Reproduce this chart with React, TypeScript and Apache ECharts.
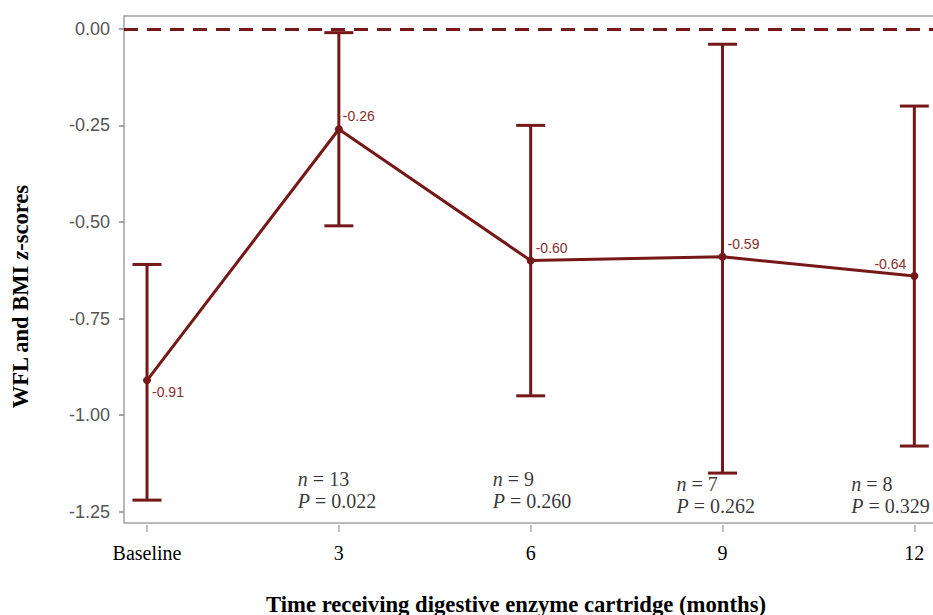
import React, { useEffect, useRef } from "react";
import * as echarts from "echarts";

// ---- data ----
const categories = ["Baseline", "3", "6", "9", "12"];
const months = [0, 3, 6, 9, 12];
const means = [-0.91, -0.26, -0.6, -0.59, -0.64];
const lowerCI = [-1.22, -0.51, -0.95, -1.15, -1.08];
const upperCI = [-0.61, -0.01, -0.25, -0.04, -0.2];
const yTicks = [-1.25, -1.0, -0.75, -0.5, -0.25, 0];
const annotMonths = [3, 6, 9, 12];
const nValues = [13, 9, 7, 8];
const pValues = ["0.022", "0.260", "0.262", "0.329"];
const referenceLine = 0;

const xTitle = "Time receiving digestive enzyme cartridge (months)";

// ---- styles ----
const C = "#761818";
const LABEL_C = "#8a2c2c";
const SERIF = '"Liberation Serif", "Times New Roman", serif';
const SANS = '"Liberation Sans", Arial, sans-serif';
const LABEL_STYLE = [
  { align: "left", offset: [5, 12] },
  { align: "left", offset: [4, -13] },
  { align: "left", offset: [5, -13] },
  { align: "left", offset: [5, -13] },
  { align: "right", offset: [-8, -12] },
];
const ANNOT_Y = -1.195;
const ANNOT_OFFSETS = [
  [-41, 0],
  [-38, 0],
  [-46, 5],
  [-63, 5],
];

export default function App() {
  const ref = useRef<HTMLDivElement>(null);

  useEffect(() => {
    if (!ref.current) return;
    const chart = echarts.init(ref.current, null, { renderer: "svg" });

    const errData = months.map((m, i) => [m, lowerCI[i], upperCI[i]]);
    const lineData = months.map((m, i) => ({
      value: [m, means[i]],
      label: {
        show: true,
        position: "inside",
        align: LABEL_STYLE[i].align,
        verticalAlign: "middle",
        offset: LABEL_STYLE[i].offset,
        formatter: () => means[i].toFixed(2),
        color: LABEL_C,
        fontFamily: SANS,
        fontSize: 14,
      },
    }));
    const annotData = annotMonths.map((m, i) => ({
      value: [m, ANNOT_Y],
      label: { offset: ANNOT_OFFSETS[i] },
    }));

    chart.setOption({
      animation: false,
      backgroundColor: "#ffffff",
      grid: {
        left: 124,
        top: 16,
        width: 814,
        height: 507,
        show: true,
        borderColor: "#a3a3a3",
        borderWidth: 1.5,
        backgroundColor: "transparent",
        containLabel: false,
      },
      xAxis: {
        type: "value",
        min: -0.36,
        max: 12.37,
        offset: 2,
        axisLine: { show: false, onZero: false },
        splitLine: { show: false },
        axisTick: {
          show: true,
          customValues: months,
          length: 7,
          lineStyle: { color: "#aaaaaa", width: 1.5 },
        },
        axisLabel: {
          customValues: months,
          formatter: (v: number) => categories[months.indexOf(v)] ?? "",
          margin: 18,
          fontFamily: SERIF,
          fontSize: 20,
          color: "#000000",
        },
      },
      yAxis: {
        type: "value",
        min: -1.2792,
        max: 0.0331,
        axisLine: { show: false, onZero: false },
        splitLine: { show: false },
        axisTick: {
          show: true,
          customValues: yTicks,
          length: 5,
          lineStyle: { color: "#888888", width: 1.5 },
        },
        axisLabel: {
          customValues: yTicks,
          formatter: (v: number) => v.toFixed(2),
          margin: 14,
          fontFamily: SANS,
          fontSize: 18,
          color: "#555555",
        },
      },
      graphic: [
        {
          type: "text",
          x: 516,
          y: 604,
          style: {
            text: xTitle,
            font: `bold 22.7px ${SERIF}`,
            fill: "#000000",
            align: "center",
            verticalAlign: "middle",
          },
        },
        {
          type: "text",
          x: 20,
          y: 297,
          rotation: Math.PI / 2,
          style: {
            text: "{b|WFL and BMI }{bi|z}{b|-scores}",
            font: `bold 22.5px ${SERIF}`,
            fill: "#000000",
            align: "center",
            verticalAlign: "middle",
            rich: {
              b: { fontFamily: SERIF, fontWeight: "bold", fontSize: 22.5, fill: "#000" },
              bi: {
                fontFamily: SERIF,
                fontWeight: "bold",
                fontStyle: "italic",
                fontSize: 22.5,
                fill: "#000",
              },
            },
          },
        },
      ],
      series: [
        {
          type: "custom",
          name: "ci",
          data: errData,
          encode: { x: 0, y: [1, 2] },
          z: 2,
          renderItem: (params: any, api: any) => {
            const x = api.value(0);
            const lo = api.value(1);
            const hi = api.value(2);
            const pHi = api.coord([x, hi]);
            const pLo = api.coord([x, lo]);
            const hw = 14.5;
            const st = { stroke: C, lineWidth: 3 };
            return {
              type: "group",
              children: [
                { type: "line", shape: { x1: pHi[0], y1: pHi[1], x2: pLo[0], y2: pLo[1] }, style: st },
                { type: "line", shape: { x1: pHi[0] - hw, y1: pHi[1], x2: pHi[0] + hw, y2: pHi[1] }, style: st },
                { type: "line", shape: { x1: pLo[0] - hw, y1: pLo[1], x2: pLo[0] + hw, y2: pLo[1] }, style: st },
              ],
            };
          },
        },
        {
          type: "line",
          name: "mean",
          data: lineData,
          z: 3,
          symbol: "circle",
          symbolSize: 8,
          lineStyle: { color: C, width: 3 },
          itemStyle: { color: C },
          markLine: {
            silent: true,
            symbol: ["none", "none"],
            label: { show: false },
            lineStyle: { color: C, width: 3, type: [14, 9] },
            data: [{ yAxis: referenceLine }],
          },
        },
        {
          type: "scatter",
          name: "annot",
          data: annotData,
          symbolSize: 1,
          itemStyle: { color: "rgba(0,0,0,0)" },
          silent: true,
          z: 4,
          label: {
            show: true,
            position: "inside",
            align: "left",
            verticalAlign: "middle",
            fontFamily: SERIF,
            fontSize: 20,
            color: "#000000",
            lineHeight: 22,
            formatter: (p: any) =>
              `{i|n} = ${nValues[p.dataIndex]}\n{i|P} = ${pValues[p.dataIndex]}`,
            rich: {
              i: {
                fontFamily: SERIF,
                fontSize: 20,
                fontStyle: "italic",
                color: "#000000",
                lineHeight: 22,
              },
            },
          },
        },
      ],
    });

    return () => chart.dispose();
  }, []);

  return (
    <div
      style={{
        position: "absolute",
        left: 0,
        top: 0,
        width: 933,
        height: 615,
        overflow: "hidden",
        background: "#fff",
      }}
    >
      <div ref={ref} style={{ width: 960, height: 615 }} />
    </div>
  );
}
